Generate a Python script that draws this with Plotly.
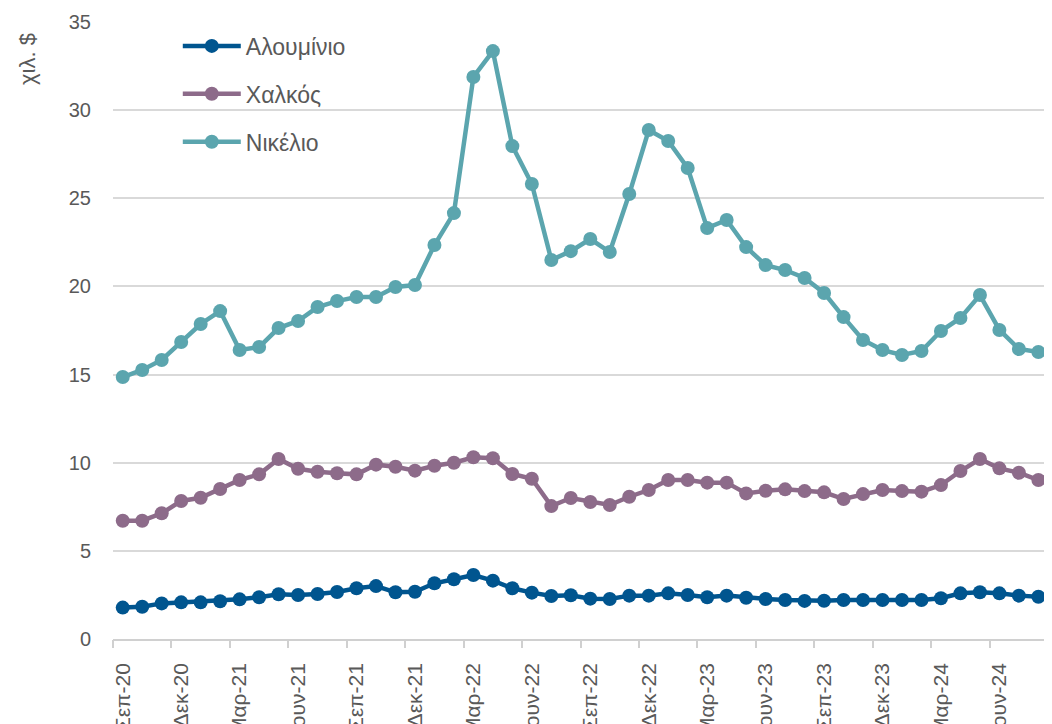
import plotly.graph_objects as go

# ---- data (thousand $ per tonne), monthly from Σεπ-20 ----
aluminium = [1.78, 1.83, 2.02, 2.08, 2.08, 2.14, 2.25, 2.37, 2.54, 2.50, 2.55, 2.67,
             2.88, 3.00, 2.65, 2.68, 3.16, 3.39, 3.63, 3.31, 2.88, 2.63, 2.44, 2.48,
             2.29, 2.27, 2.46, 2.46, 2.59, 2.50, 2.37, 2.46, 2.34, 2.27, 2.21, 2.16,
             2.17, 2.21, 2.21, 2.21, 2.21, 2.21, 2.31, 2.59, 2.65, 2.59, 2.46, 2.40, 2.50]
copper = [6.71, 6.71, 7.13, 7.83, 8.01, 8.51, 9.02, 9.34, 10.21, 9.66, 9.49, 9.40,
          9.34, 9.89, 9.77, 9.55, 9.83, 10.00, 10.31, 10.25, 9.36, 9.09, 7.54, 8.00,
          7.77, 7.60, 8.07, 8.45, 9.02, 9.02, 8.87, 8.87, 8.26, 8.41, 8.49, 8.39,
          8.32, 7.94, 8.22, 8.45, 8.39, 8.36, 8.73, 9.53, 10.21, 9.68, 9.43, 9.02, 9.50]
nickel = [14.86, 15.26, 15.83, 16.85, 17.87, 18.60, 16.39, 16.56, 17.64, 18.04, 18.83, 19.17,
          19.40, 19.40, 19.97, 20.08, 22.35, 24.16, 31.88, 33.35, 27.96, 25.81, 21.50, 22.00,
          22.69, 21.95, 25.24, 28.87, 28.25, 26.72, 23.31, 23.77, 22.23, 21.21, 20.93, 20.48,
          19.63, 18.26, 16.96, 16.39, 16.11, 16.34, 17.47, 18.21, 19.51, 17.53, 16.45, 16.28, 16.10]

tick_labels = ["Σεπ-20", "Δεκ-20", "Μαρ-21", "Ιουν-21", "Σεπ-21", "Δεκ-21", "Μαρ-22",
               "Ιουν-22", "Σεπ-22", "Δεκ-22", "Μαρ-23", "Ιουν-23", "Σεπ-23", "Δεκ-23",
               "Μαρ-24", "Ιουν-24", "Σεπ-24"]
series_names = ["Αλουμίνιο", "Χαλκός", "Νικέλιο"]
series_colors = ["#00558F", "#8D6B8A", "#5BA5AE"]

x = list(range(len(nickel)))
tick_pos = list(range(0, len(nickel), 3))[:len(tick_labels)]
boundary_pos = [p - 0.5 for p in tick_pos]

FONT = "Liberation Sans"
GREY = "#595959"

# page body has an 8px margin: figure is placed at (8, 8) in the window
OFF = 8
PLOT_L, PLOT_R, PLOT_T, PLOT_B = 113, 1052, 22, 639   # window pixels

fig = go.Figure()
for name, vals, col in zip(series_names, [aluminium, copper, nickel], series_colors):
    fig.add_trace(go.Scatter(
        x=x, y=vals, name=name, legendgroup=name, mode="lines+markers",
        line=dict(color=col, width=4.5),
        marker=dict(color=col, size=14),
    ))

# invisible trace on second x-axis just to draw boundary tick marks
fig.add_trace(go.Scatter(x=[x[0]], y=[None], xaxis="x2", showlegend=False,
                         hoverinfo="skip"))

xrange = [-0.5, 47.7]
fig.update_layout(
    width=1052 - OFF, height=724 - OFF,
    margin=dict(l=PLOT_L - OFF, r=0, t=PLOT_T - OFF, b=724 - PLOT_B),
    paper_bgcolor="white", plot_bgcolor="white",
    font=dict(family=FONT, color=GREY, size=20),
    showlegend=True,
    legend=dict(x=0.069, y=0.996, xanchor="left", yanchor="top",
                font=dict(size=23, color=GREY), bgcolor="rgba(0,0,0,0)",
                tracegroupgap=15, itemwidth=58),
    xaxis=dict(range=xrange, tickmode="array", tickvals=tick_pos, ticktext=tick_labels,
               tickangle=-90, ticks="", showgrid=False, zeroline=False, automargin=False,
               showline=True, linecolor="#D0D0D0", linewidth=1.5,
               ticklabelstandoff=14, tickfont=dict(size=21, color=GREY)),
    xaxis2=dict(range=xrange, overlaying="x", tickmode="array", tickvals=boundary_pos,
                showticklabels=False, ticks="outside", ticklen=8, tickcolor="#D0D0D0",
                tickwidth=1.5, showgrid=False, zeroline=False, showline=False,
                automargin=False, side="bottom", anchor="y"),
    yaxis=dict(range=[0, 35], tickmode="array", tickvals=[0, 5, 10, 15, 20, 25, 30, 35],
               showgrid=True, gridcolor="#D9D9D9", gridwidth=1.5, zeroline=False,
               showline=False, ticks="", ticklabelstandoff=21, automargin=False,
               tickfont=dict(size=20, color=GREY)),
)
plot_w = PLOT_R - PLOT_L
plot_h = PLOT_B - PLOT_T
fig.add_annotation(text="χιλ. $", x=(27 - PLOT_L) / plot_w, y=(PLOT_B - 59) / plot_h,
                   xref="paper", yref="paper", showarrow=False, textangle=-90,
                   xanchor="center", yanchor="middle",
                   font=dict(size=22, color=GREY))

fig.write_html("out.html")
